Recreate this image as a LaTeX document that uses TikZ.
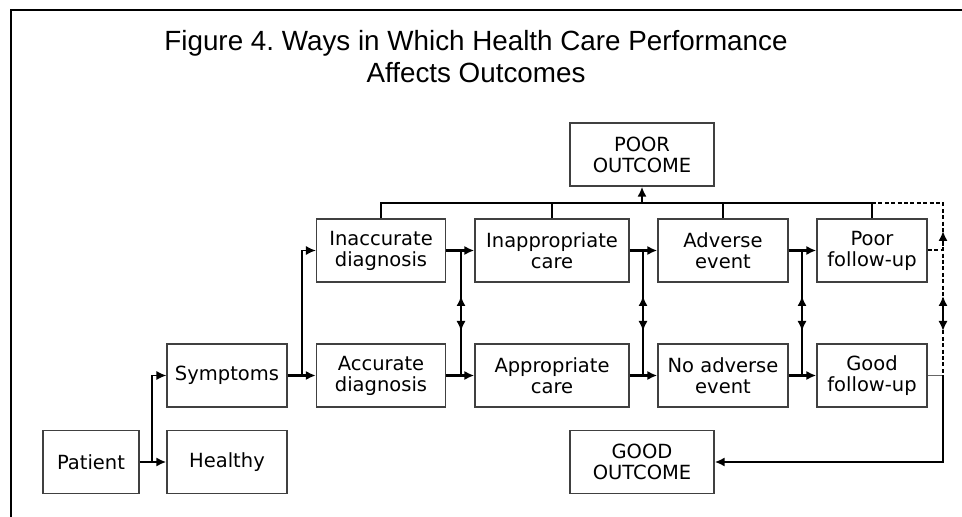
\documentclass[tikz,border=0pt]{standalone}
\usepackage{fontspec}
\setmainfont{DejaVu Sans}
\newfontfamily\titlefont{Liberation Sans}
\usetikzlibrary{arrows.meta}
\frenchspacing

\tikzset{
  box/.style={draw=black!75,line width=0.7pt,minimum height=31.5pt,inner sep=0pt,
    align=center,font=\fontsize{9.75}{10.5}\selectfont},
  tip/.style={-{Latex[length=5pt,width=4.6pt]}},
  thickarr/.style={line width=1.3pt,tip},
  thinarr/.style={line width=0.7pt,tip},
  thickline/.style={line width=1.3pt},
  thinline/.style={line width=0.6pt},
  dashline/.style={line width=1pt,dash pattern=on 2pt off 1.2pt},
  dblarr/.style={line width=1.3pt,{Latex[length=5pt,width=4.6pt]}-{Latex[length=5pt,width=4.6pt]}}
}

\begin{document}
\begin{tikzpicture}[x=0.5pt,y=-0.5pt]
  \useasboundingbox (0,0) rectangle (962,517);
  \draw[line width=1.25pt] (962,10) -- (11,10) -- (11,517);
  \node[anchor=base,align=center,font=\titlefont\fontsize{13.9}{16}\selectfont] (title) at (476,83)
    {Figure 4. Ways in Which Health Care Performance\\Affects Outcomes};

  \node[box,minimum width=48pt] (patient) at (91,462) {Patient};
  \node[box,minimum width=60pt] (healthy) at (227,462) {Healthy};
  \node[box,minimum width=60pt] (symptoms) at (227,375.5) {Symptoms};
  \node[box,minimum width=64.5pt] (inaccdiag) at (381,250.5) {Inaccurate\\diagnosis};
  \node[box,minimum width=64.5pt] (accdiag) at (381,375.5) {Accurate\\diagnosis};
  \node[box,minimum width=77pt] (inapcare) at (552,250.5) {Inappropriate\\care};
  \node[box,minimum width=77pt] (apcare) at (552,375.5) {Appropriate\\care};
  \node[box,minimum width=65pt] (adverse) at (723,250.5) {Adverse\\event};
  \node[box,minimum width=65pt] (noadverse) at (723,375.5) {No adverse\\event};
  \node[box,minimum width=55pt] (poorfu) at (872,250.5) {Poor\\follow-up};
  \node[box,minimum width=55pt] (goodfu) at (872,375.5) {Good\\follow-up};
  \node[box,minimum width=72pt] (poorout) at (642,154.5) {POOR\\OUTCOME};
  \node[box,minimum width=72pt] (goodout) at (642,462) {GOOD\\OUTCOME};

  \coordinate (jp) at (152,462);
  \coordinate (js) at (302,375.5);
  \coordinate (ja1) at (461,250.5);
  \coordinate (ja2) at (461,375.5);
  \coordinate (jb1) at (643,250.5);
  \coordinate (jb2) at (643,375.5);
  \coordinate (jc1) at (802,250.5);
  \coordinate (jc2) at (802,375.5);
  \coordinate (busl) at (381,203);
  \coordinate (busr) at (872,203);
  \coordinate (dtop) at (943,203);
  \coordinate (dbot) at (943,375.5);

  \draw[thickarr] (patient) -- (healthy);
  \draw[thinarr] (jp) |- (symptoms.west);
  \draw[thickarr] (symptoms) -- (accdiag);
  \draw[thinarr] (js) |- (inaccdiag.west);

  \draw[thickarr] (inaccdiag) -- (inapcare);
  \draw[thickarr] (accdiag) -- (apcare);
  \draw[thickline] (ja1) -- (ja2);
  \draw[thickarr] (inapcare) -- (adverse);
  \draw[thickarr] (apcare) -- (noadverse);
  \draw[thickline] (jb1) -- (jb2);
  \draw[thickarr] (adverse) -- (poorfu);
  \draw[thickarr] (noadverse) -- (goodfu);
  \draw[thickline] (jc1) -- (jc2);

  \draw[thinline] (inaccdiag.north) |- (busr) -- (poorfu.north);
  \draw[thinline] (inapcare.north) -- (inapcare.north |- busl);
  \draw[thinline] (adverse.north) -- (adverse.north |- busl);
  \draw[line width=1pt,tip] (poorout.south |- busl) -- (poorout.south);

  \draw[dashline] (busr) -- (dtop) -- (dbot);
  \draw[dashline] (poorfu.east) -- (poorfu.east -| dtop);
  \draw[line width=1pt,tip] (943,246) -- (943,231);
  \draw[thinline,black!60] (goodfu.east) -- (dbot);
  \draw[line width=1pt,tip] (dbot) |- (goodout.east);

  \foreach \x in {461,643,802,943}
    \draw[dblarr] (\x,296) -- (\x,331);
\end{tikzpicture}
\end{document}
